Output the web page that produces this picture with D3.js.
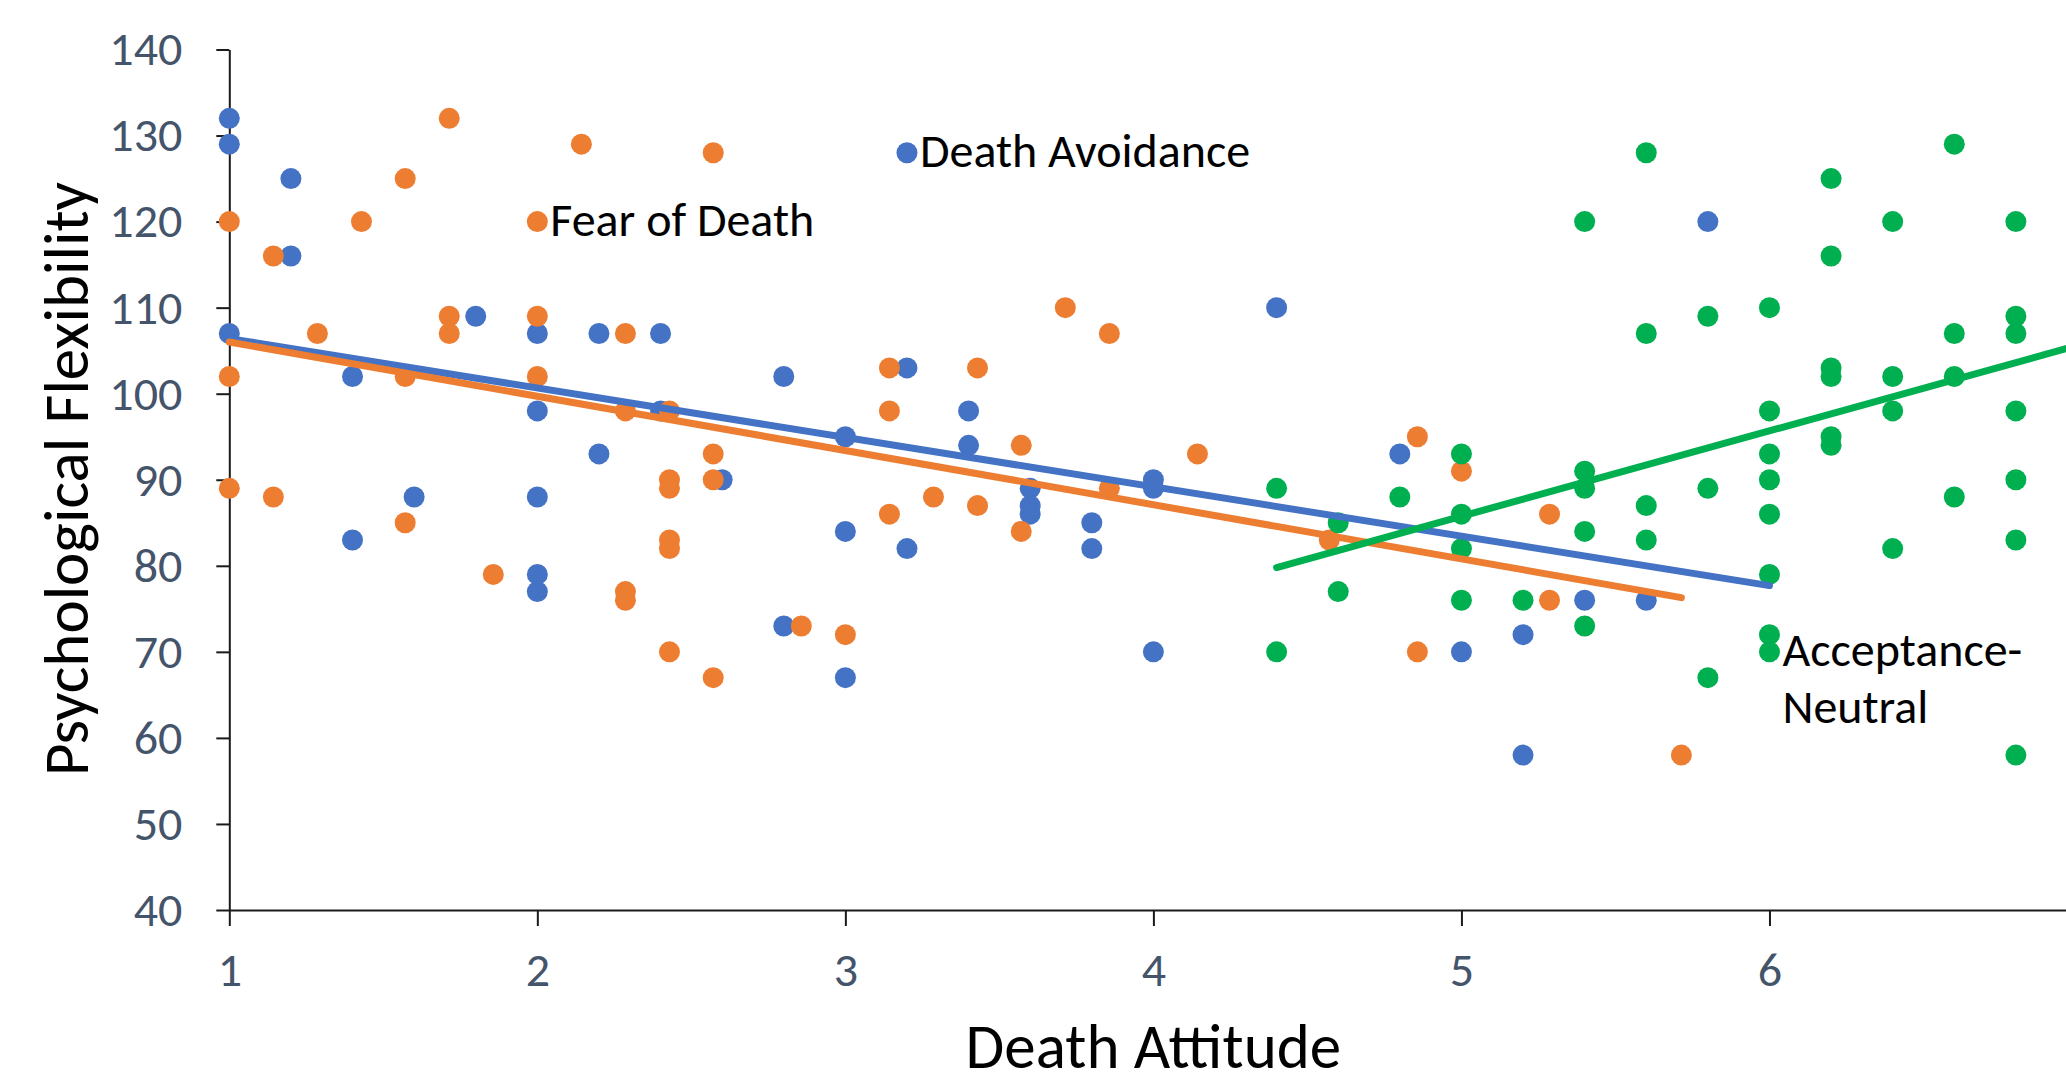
<!DOCTYPE html>
<html>
<head>
<meta charset="utf-8">
<script src="https://cdn.jsdelivr.net/npm/d3@7"></script>
<style>
  body { margin: 0; background: #fff; }
  svg { display: block; }
</style>
</head>
<body>
<script>

// values
var avoidanceX = [1, 1, 1, 1.2, 1.2, 1.4, 1.4, 1.6, 1.8, 2, 2, 2, 2, 2, 2.2, 2.2, 2.4, 2.4, 2.6, 2.8, 2.8,
                  3, 3, 3, 3.2, 3.2, 3.2, 3.4, 3.4, 3.6, 3.6, 3.6, 3.8, 3.8, 4, 4, 4, 4.4, 4.8, 5, 5.2, 5.2, 5.4, 5.6, 5.8];
var avoidanceY = [132, 129, 107, 125, 116, 102, 83, 88, 109, 107, 98, 88, 79, 77, 107, 93, 107, 98, 90, 102, 73,
                  95, 84, 67, 128, 103, 82, 98, 94, 89, 87, 86, 85, 82, 90, 89, 70, 110, 93, 70, 72, 58, 76, 76, 120];

var fearX = [1, 1, 1, 1.143, 1.143, 1.286, 1.429, 1.571, 1.571, 1.571, 1.714, 1.714, 1.714, 1.857,
             2, 2, 2, 2.143, 2.286, 2.286, 2.286, 2.286, 2.429, 2.429, 2.429, 2.429, 2.429, 2.429,
             2.571, 2.571, 2.571, 2.571, 2.857, 3, 3.143, 3.143, 3.143, 3.286, 3.429, 3.429, 3.571, 3.571,
             3.714, 3.857, 3.857, 4.143, 4.571, 4.857, 4.857, 5, 5.286, 5.286, 5.714];
var fearY = [120, 102, 89, 116, 88, 107, 120, 125, 102, 85, 132, 109, 107, 79,
             120, 109, 102, 129, 107, 98, 77, 76, 98, 90, 89, 83, 82, 70,
             128, 93, 90, 67, 73, 72, 103, 98, 86, 88, 103, 87, 94, 84,
             110, 107, 89, 93, 83, 95, 70, 91, 86, 76, 58];

var acceptX = [4.4, 4.4, 4.6, 4.6, 4.8, 5, 5, 5, 5, 5.2, 5.4, 5.4, 5.4, 5.4, 5.4, 5.6, 5.6, 5.6, 5.6,
               5.8, 5.8, 5.8, 6, 6, 6, 6, 6, 6, 6, 6, 6.2, 6.2, 6.2, 6.2, 6.2, 6.2, 6.4, 6.4, 6.4, 6.4,
               6.6, 6.6, 6.6, 6.6, 6.8, 6.8, 6.8, 6.8, 6.8, 6.8, 6.8];
var acceptY = [89, 70, 85, 77, 88, 93, 86, 82, 76, 76, 120, 91, 89, 84, 73, 128, 107, 87, 83,
               109, 89, 67, 110, 98, 93, 90, 86, 79, 72, 70, 125, 116, 103, 102, 95, 94, 120, 102, 98, 82,
               129, 107, 102, 88, 120, 109, 107, 98, 90, 83, 58];

// linear trend lines, end points
var avoidanceTrend = [[1, 106.4], [6, 77.7]];
var fearTrend = [[1, 106.0], [5.714, 76.3]];
var acceptTrend = [[4.4, 79.8], [7, 105.6]];

var xTicks = [1, 2, 3, 4, 5, 6];
var yTicks = [40, 50, 60, 70, 80, 90, 100, 110, 120, 130, 140];

// data labels: text lines and the point they belong to
var labels = [
  { lines: ["Death Avoidance"], x: 3.2, y: 128 },
  { lines: ["Fear of Death"], x: 2, y: 120 },
  { lines: ["Acceptance-", "Neutral"], x: 6, y: 70 }
];

var series = [
  { xs: avoidanceX, ys: avoidanceY, trend: avoidanceTrend, color: "#4472C4" },
  { xs: fearX, ys: fearY, trend: fearTrend, color: "#ED7D31" },
  { xs: acceptX, ys: acceptY, trend: acceptTrend, color: "#00B050" }
];

var width = 2066, height = 1075;
var font = "Calibri, Carlito, Lato, sans-serif";

var svg = d3.select("body").append("svg")
    .attr("width", width)
    .attr("height", height);

var x = d3.scaleLinear().domain([1, 7]).range([229.3, 2077.5]);
var y = d3.scaleLinear().domain([40, 140]).range([910, 49.5]);

// axes
var xAxis = svg.append("g")
    .attr("transform", "translate(0," + y(40) + ")")
    .call(d3.axisBottom(x).tickValues(xTicks).tickSize(16).tickSizeOuter(0).tickPadding(26).tickFormat(d3.format("d")));

var yAxis = svg.append("g")
    .attr("transform", "translate(" + x(1) + ",0)")
    .call(d3.axisLeft(y).tickValues(yTicks).tickSize(13).tickSizeOuter(0).tickPadding(34).tickFormat(d3.format("d")));

[xAxis, yAxis].forEach(function(g) {
  g.selectAll("path, line").attr("stroke", "#1a1a1a").attr("stroke-width", 2);
  g.selectAll("text")
    .attr("fill", "#44546A")
    .attr("font-family", font)
    .attr("font-size", "48px");
});

// axis titles
svg.append("text")
    .attr("x", x(4))
    .attr("y", 1068)
    .attr("text-anchor", "middle")
    .attr("font-family", font)
    .attr("font-size", "63px")
    .attr("fill", "#000")
    .text("Death Attitude");

svg.append("text")
    .attr("transform", "translate(88," + 479 + ") rotate(-90)")
    .attr("text-anchor", "middle")
    .attr("font-family", font)
    .attr("font-size", "63px")
    .attr("fill", "#000")
    .text("Psychological Flexibility");

// points
series.forEach(function(s) {
  svg.append("g").selectAll("circle")
      .data(s.xs)
      .enter().append("circle")
      .attr("cx", function(d) { return x(d); })
      .attr("cy", function(d, i) { return y(s.ys[i]); })
      .attr("r", 10.5)
      .attr("fill", s.color);
});

// trend lines
var line = d3.line()
    .x(function(d) { return x(d[0]); })
    .y(function(d) { return y(d[1]); });

series.forEach(function(s) {
  svg.append("path")
      .attr("d", line(s.trend))
      .attr("fill", "none")
      .attr("stroke", s.color)
      .attr("stroke-width", 7)
      .attr("stroke-linecap", "round");
});

// data labels
labels.forEach(function(l) {
  var t = svg.append("text")
      .attr("font-family", font)
      .attr("font-size", "48px")
      .attr("fill", "#000");
  l.lines.forEach(function(str, i) {
    t.append("tspan")
      .attr("x", x(l.x) + 13)
      .attr("y", y(l.y) + 14 + i * 57)
      .text(str);
  });
});

</script>
</body>
</html>
